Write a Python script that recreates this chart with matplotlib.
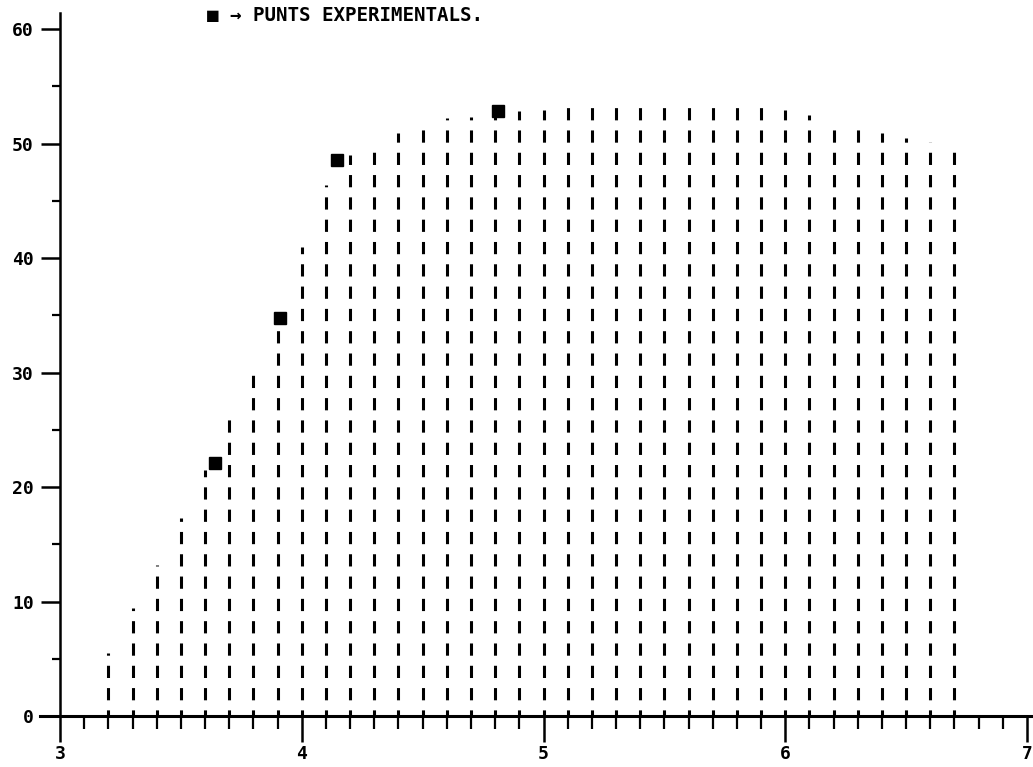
import matplotlib
matplotlib.use("Agg")
import matplotlib.pyplot as plt
from matplotlib.ticker import MultipleLocator

plt.rcParams['font.family'] = ['DejaVu Sans Mono', 'DejaVu Sans']

# corbes calculades: una linia discontinua cada 0.1
x_curve = [3.2, 3.3, 3.4, 3.5, 3.6, 3.7, 3.8, 3.9, 4.0, 4.1,
           4.2, 4.3, 4.4, 4.5, 4.6, 4.7, 4.8, 4.9, 5.0, 5.1,
           5.2, 5.3, 5.4, 5.5, 5.6, 5.7, 5.8, 5.9, 6.0, 6.1,
           6.2, 6.3, 6.4, 6.5, 6.6, 6.7]
y_curve = [5.5, 9.4, 13.2, 17.3, 21.5, 26.0, 30.5, 34.8, 41.0, 46.4,
           49.0, 50.0, 50.9, 51.8, 52.2, 52.3, 52.7, 52.8, 52.9, 53.2,
           53.5, 53.5, 53.5, 53.5, 53.4, 53.4, 53.4, 53.3, 52.9, 52.5,
           51.9, 51.8, 50.9, 50.5, 50.1, 49.6]

# punts experimentals
x_exp = [3.64, 3.91, 4.145, 4.81]
y_exp = [22.1, 34.8, 48.6, 52.8]

x_ticks = [3, 4, 5, 6, 7]
y_ticks = [0, 10, 20, 30, 40, 50, 60]

fig = plt.figure(figsize=(10.33, 7.67), dpi=100)
ax = fig.add_axes([40 / 1033, 51 / 767, 993 / 1033, 703 / 767])

for xv, yv in zip(x_curve, y_curve):
    ax.plot([xv, xv], [0, yv], color='black', lw=2.2,
            linestyle=(2, (4, 3.3)), solid_capstyle='butt',
            dash_capstyle='butt')

ax.plot(x_exp, y_exp, 's', color='black', markersize=8.5, zorder=5)

ax.set_xlim(2.917, 7.025)
ax.set_ylim(0, 61.4)

ax.spines['top'].set_visible(False)
ax.spines['right'].set_visible(False)
ax.spines['left'].set_position(('data', 3))
ax.spines['left'].set_linewidth(1.8)
ax.spines['bottom'].set_linewidth(2.2)

ax.set_xticks(x_ticks)
ax.set_yticks(y_ticks)
ax.xaxis.set_minor_locator(MultipleLocator(0.1))
ax.yaxis.set_minor_locator(MultipleLocator(5))

ax.tick_params(axis='x', which='major', direction='out', length=19,
               width=1.8, pad=2, labelsize=13)
ax.tick_params(axis='x', which='minor', direction='out', length=9,
               width=1.6)
ax.tick_params(axis='y', which='major', direction='out', length=14,
               width=1.8, pad=5, labelsize=13)
ax.tick_params(axis='y', which='minor', direction='out', length=6,
               width=1.6)
for lab in ax.get_xticklabels() + ax.get_yticklabels():
    lab.set_fontweight('bold')

fig.text(207 / 1033, 1 - 16 / 767, '■ → PUNTS EXPERIMENTALS.',
         fontsize=13.8, fontweight='bold', va='center', ha='left')

fig.savefig('out.png', dpi=100)
